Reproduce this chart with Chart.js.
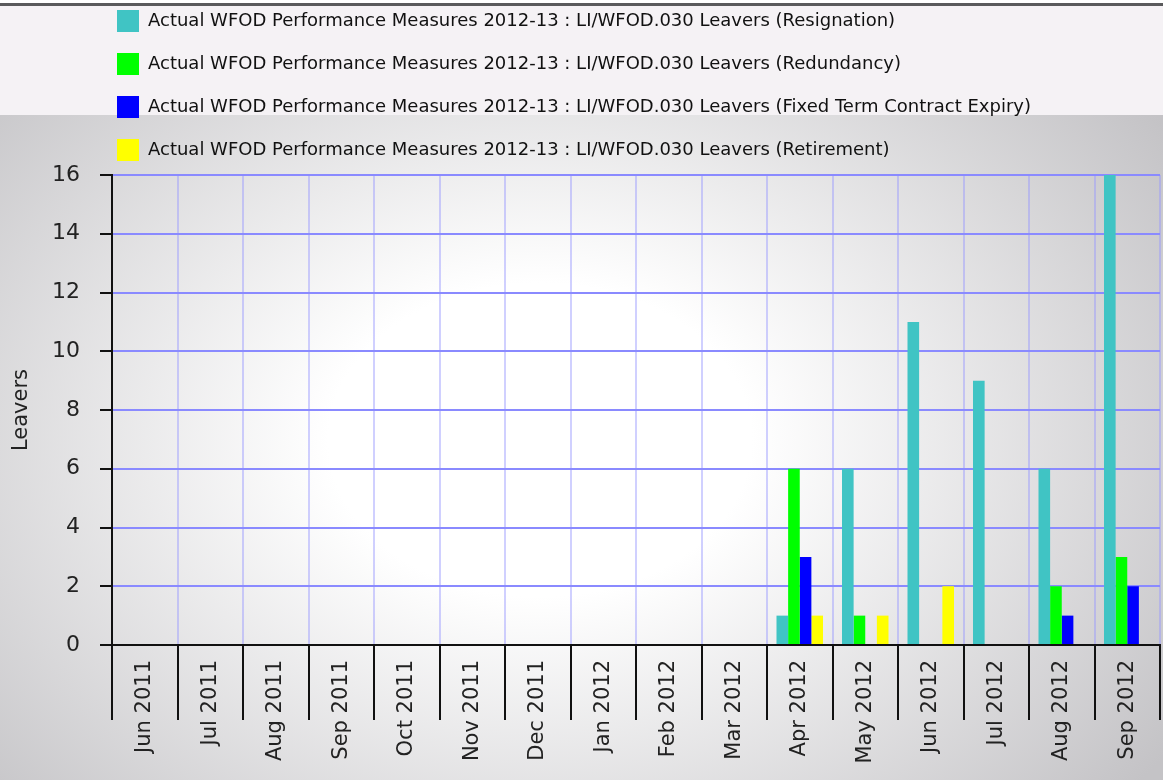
<!DOCTYPE html>
<html>
<head>
<meta charset="utf-8">
<title>Leavers</title>
<script src="https://cdn.jsdelivr.net/npm/chart.js@4.4.1/dist/chart.umd.min.js"></script>
<style>
    html, body { margin: 0; padding: 0; background: #fff; }
    #wrap { width: 1163px; height: 780px; position: relative; }
</style>
</head>
<body>
<div id="wrap"><canvas id="leaversChart"></canvas></div>
<script>
// Data
const months = ['Jun 2011', 'Jul 2011', 'Aug 2011', 'Sep 2011', 'Oct 2011', 'Nov 2011', 'Dec 2011', 'Jan 2012',
    'Feb 2012', 'Mar 2012', 'Apr 2012', 'May 2012', 'Jun 2012', 'Jul 2012', 'Aug 2012', 'Sep 2012'];
const resignation = [0, 0, 0, 0, 0, 0, 0, 0, 0, 0, 1, 6, 11, 9, 6, 16];
const redundancy  = [0, 0, 0, 0, 0, 0, 0, 0, 0, 0, 6, 1, 0, 0, 2, 3];
const fixedTerm   = [0, 0, 0, 0, 0, 0, 0, 0, 0, 0, 3, 0, 0, 0, 1, 2];
const retirement  = [0, 0, 0, 0, 0, 0, 0, 0, 0, 0, 1, 1, 2, 0, 0, 0];
const seriesNames = [
    'Actual WFOD Performance Measures 2012-13 : LI/WFOD.030 Leavers (Resignation)',
    'Actual WFOD Performance Measures 2012-13 : LI/WFOD.030 Leavers (Redundancy)',
    'Actual WFOD Performance Measures 2012-13 : LI/WFOD.030 Leavers (Fixed Term Contract Expiry)',
    'Actual WFOD Performance Measures 2012-13 : LI/WFOD.030 Leavers (Retirement)'
];
const yMin = 0, yMax = 16, yStep = 2;

const FONT = 'DejaVu Sans';

// page backdrop: light strip behind the legend, grey radial wash below it
const backdrop = {
    id: 'backdrop',
    beforeDraw(chart) {
        const { ctx, width, height } = chart;
        ctx.save();
        ctx.fillStyle = '#ffffff';
        ctx.fillRect(0, 0, width, height);
        ctx.fillStyle = '#f5f2f5';
        ctx.fillRect(0, 6, width, 109);
        ctx.fillStyle = '#5a5a5c';
        ctx.fillRect(0, 3, width, 3);

        ctx.beginPath();
        ctx.rect(0, 115, width, height - 115);
        ctx.clip();
        ctx.translate(540, 440);
        ctx.scale(1.35, 1);
        const g = ctx.createRadialGradient(0, 0, 0, 0, 0, 560);
        g.addColorStop(0, '#ffffff');
        g.addColorStop(0.28, '#ffffff');
        g.addColorStop(1, '#c4c3c6');
        ctx.fillStyle = g;
        ctx.fillRect(-width, -height, width * 2, height * 2);
        ctx.restore();
    }
};

// legend rows start under the plot, not at the page edge
const legendShift = {
    id: 'legendShift',
    afterLayout(chart) {
        chart.legend.left = 96;
        chart.legend.top -= 4;
    }
};

const ctx = document.getElementById('leaversChart').getContext('2d');
const leaversChart = new Chart(ctx, {
    type: 'bar',
    data: {
        labels: months,
        datasets: [
            { label: seriesNames[0], data: resignation, backgroundColor: '#40c4c4' },
            { label: seriesNames[1], data: redundancy, backgroundColor: '#00ff00' },
            { label: seriesNames[2], data: fixedTerm, backgroundColor: '#0000ff' },
            { label: seriesNames[3], data: retirement, backgroundColor: '#ffff00' }
        ]
    },
    plugins: [backdrop, legendShift],
    options: {
        responsive: true,
        maintainAspectRatio: false,
        animation: false,
        layout: { padding: { top: -7, right: 3, left: 0, bottom: 0 } },
        datasets: { bar: { categoryPercentage: 0.71, barPercentage: 1, borderWidth: 0 } },
        plugins: {
            legend: {
                position: 'top',
                align: 'start',
                labels: {
                    boxWidth: 22,
                    boxHeight: 22,
                    padding: 21,
                    color: '#111',
                    font: { family: FONT, size: 18 }
                }
            },
            tooltip: { enabled: false }
        },
        scales: {
            x: {
                grid: {
                    offset: true,
                    color: 'rgba(150, 150, 255, 0.45)',
                    lineWidth: 2,
                    tickColor: '#111',
                    tickLength: 75,
                    tickWidth: 2
                },
                border: { color: '#111', width: 2 },
                ticks: {
                    minRotation: 90,
                    maxRotation: 90,
                    autoSkip: false,
                    padding: -60,
                    color: '#222',
                    font: { family: FONT, size: 21 }
                },
                afterFit(scale) { scale.height = 135; }
            },
            y: {
                min: yMin,
                max: yMax,
                ticks: {
                    stepSize: yStep,
                    padding: 20,
                    color: '#222',
                    font: { family: FONT, size: 22 }
                },
                grid: {
                    color: '#8a8aff',
                    lineWidth: 2,
                    tickColor: '#111',
                    tickLength: 12,
                    tickWidth: 2
                },
                border: { color: '#111', width: 2 },
                title: {
                    display: true,
                    text: 'Leavers',
                    color: '#222',
                    font: { family: FONT, size: 21 },
                    padding: { top: 9, bottom: 0 }
                },
                afterFit(scale) { scale.width = 112; }
            }
        }
    }
});
</script>
</body>
</html>
